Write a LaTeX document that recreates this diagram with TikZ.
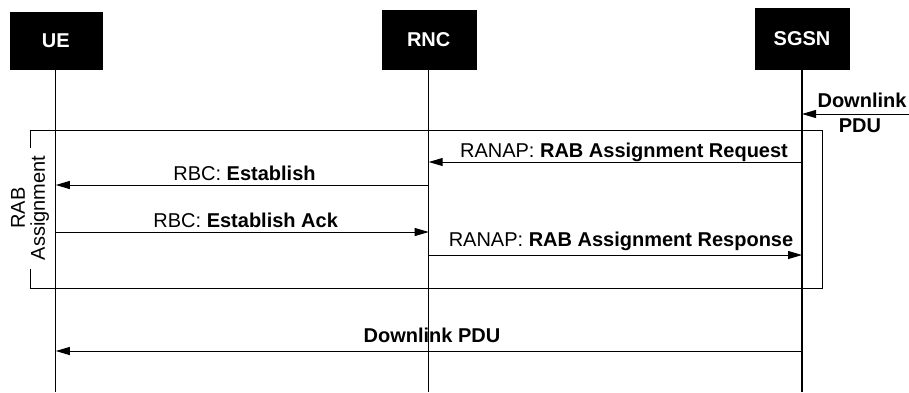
\documentclass[tikz,border=0pt]{standalone}
\usepackage{fontspec}
\setmainfont{Liberation Sans}
\usetikzlibrary{arrows.meta}
\begin{document}
\begin{tikzpicture}[x=1pt,y=-1pt,
  actor/.style={fill=black,draw=black,text=white,font=\fontsize{20}{24}\selectfont\bfseries,inner sep=0pt},
  lifeline/.style={line width=1.2pt},
  msg/.style={line width=1pt,-{Triangle[length=14pt,width=8pt]}},
  lbl/.style={font=\fontsize{20}{24}\selectfont,anchor=base,inner sep=0pt},
  frame/.style={line width=1pt}]
\useasboundingbox (0,0) rectangle (909,392);
% actors
\node[actor,minimum width=92pt,minimum height=57pt] (ue) at (55.8,40.3) {UE};
\node[actor,minimum width=94pt,minimum height=59pt] (rnc) at (428.7,39.3) {RNC};
\node[actor,minimum width=94pt,minimum height=61pt] (sgsn) at (802,38.3) {SGSN};
% lifeline ends
\coordinate (ueEnd) at (55.8,392);
\coordinate (rncEnd) at (428.7,392);
\coordinate (sgsnEnd) at (802,392);
\draw[lifeline] (ue.south) -- (ueEnd);
\draw[lifeline] (rnc.south) -- (rncEnd);
\draw[lifeline] (sgsn.south) -- (sgsnEnd);
% frame
\draw[frame] (30,148) -- (30,130) -- (822,130) -- (822,288) -- (30,288) -- (30,269);
\node[font=\fontsize{20}{20}\selectfont,rotate=90,align=center,inner sep=0pt] (frameLbl) at (30,208) {RAB\\Assignment};
% incoming downlink PDU
\coordinate (extIn) at (909,114);
\coordinate (sgsnIn) at (802,114);
\draw[msg] (extIn) -- (sgsnIn);
\node[lbl,font=\fontsize{20}{24}\selectfont\bfseries] (dlTop) at (862,107) {Downlink};
\node[lbl,font=\fontsize{20}{24}\selectfont\bfseries] (dlBot) at (860,132) {PDU};
% messages
\coordinate (sgsnA) at (802,162);
\coordinate (rncA) at (428.7,162);
\draw[msg] (sgsnA) -- (rncA);
\node[lbl] (m1) at (624,157) {RANAP: \textbf{RAB Assignment Request}};
\coordinate (rncB) at (428.7,185);
\coordinate (ueB) at (55.8,185);
\draw[msg] (rncB) -- (ueB);
\node[lbl] (m2) at (244.5,180) {RBC: \textbf{Establish}};
\coordinate (ueC) at (55.8,232);
\coordinate (rncC) at (428.7,232);
\draw[msg] (ueC) -- (rncC);
\node[lbl] (m3) at (245.7,227) {RBC: \textbf{Establish Ack}};
\coordinate (rncD) at (428.7,255);
\coordinate (sgsnD) at (802,255);
\draw[msg] (rncD) -- (sgsnD);
\node[lbl] (m4) at (621,246) {RANAP: \textbf{RAB Assignment Response}};
\coordinate (sgsnE) at (802,351);
\coordinate (ueE) at (55.8,351);
\draw[msg] (sgsnE) -- (ueE);
\node[lbl,font=\fontsize{20}{24}\selectfont\bfseries] (m5) at (432,342) {Downlink PDU};
\end{tikzpicture}
\end{document}
